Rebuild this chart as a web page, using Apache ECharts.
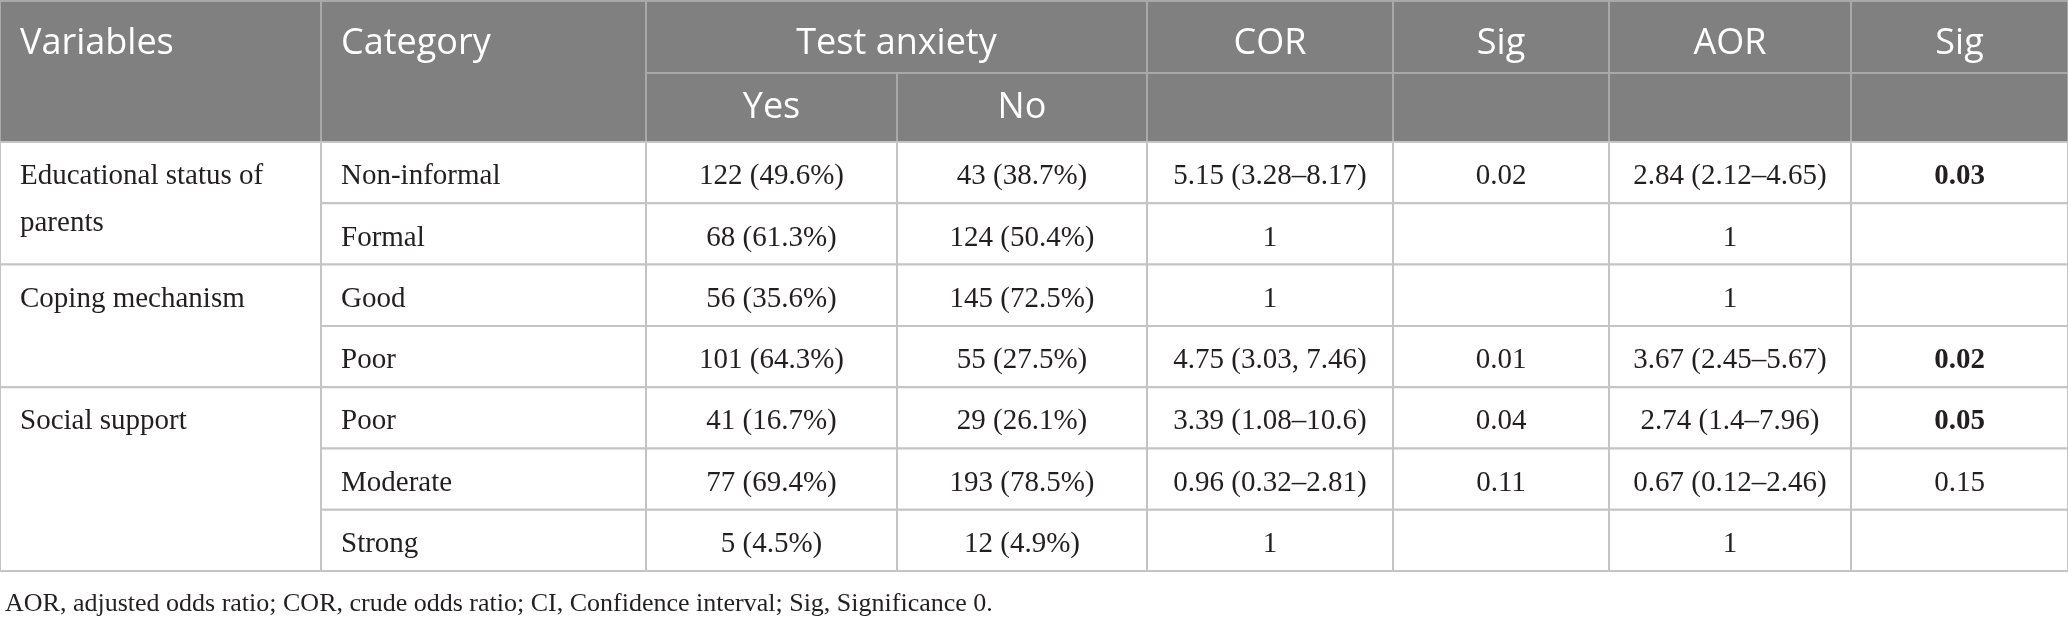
<!DOCTYPE html>
<html>
<head>
<meta charset="utf-8">
<script src="https://cdn.jsdelivr.net/npm/echarts@6/dist/echarts.min.js"></script>
<style>
  html, body { margin: 0; padding: 0; background: #fff; }
  #main { width: 2068px; height: 623px; }
</style>
</head>
<body>
<div id="main"></div>
<script>
// 表头
const headerTop = ['Variables', 'Category', 'Test anxiety', 'COR', 'Sig', 'AOR', 'Sig'];
const subHeader = ['Yes', 'No'];
// 变量（合并行）
const variables = ['Educational status of\nparents', 'Coping mechanism', 'Social support'];
const variableSpans = [2, 2, 3];
// 每行数据
const categories = ['Non-informal', 'Formal', 'Good', 'Poor', 'Poor', 'Moderate', 'Strong'];
const yesCounts = ['122 (49.6%)', '68 (61.3%)', '56 (35.6%)', '101 (64.3%)', '41 (16.7%)', '77 (69.4%)', '5 (4.5%)'];
const noCounts = ['43 (38.7%)', '124 (50.4%)', '145 (72.5%)', '55 (27.5%)', '29 (26.1%)', '193 (78.5%)', '12 (4.9%)'];
const corValues = ['5.15 (3.28\u20138.17)', '1', '1', '4.75 (3.03, 7.46)', '3.39 (1.08\u201310.6)', '0.96 (0.32\u20132.81)', '1'];
const corSig = ['0.02', '', '', '0.01', '0.04', '0.11', ''];
const aorValues = ['2.84 (2.12\u20134.65)', '1', '1', '3.67 (2.45\u20135.67)', '2.74 (1.4\u20137.96)', '0.67 (0.12\u20132.46)', '1'];
const aorSig = ['0.03', '', '', '0.02', '0.05', '0.15', ''];
const aorSigBold = [true, false, false, true, true, false, false];
const footnote = 'AOR, adjusted odds ratio; COR, crude odds ratio; CI, Confidence interval; Sig, Significance 0.';

// 版式（列宽、行高）
var colWidths = [321, 325, 251, 250, 246, 216, 242, 217];
var headRowHeights = [72, 69];
var bodyRowHeight = 61.3;
var tableTop = 1;

var colEdges = [0];
colWidths.forEach(function (w) { colEdges.push(colEdges[colEdges.length - 1] + w); });
var rowEdges = [tableTop, tableTop + headRowHeights[0], tableTop + headRowHeights[0] + headRowHeights[1]];
for (var r = 0; r < categories.length; r++) {
	rowEdges.push(rowEdges[rowEdges.length - 1] + bodyRowHeight);
}

var serif = '"Liberation Serif", "Times New Roman", serif';
var sans = '"Open Sans", "Noto Sans", sans-serif';

// 单元格：[x0, x1, y0, y1]
var cells = [];
function addCell(c0, c1, r0, r1, text, opt) {
	opt = opt || {};
	cells.push({
		value: [colEdges[c0], colEdges[c1], rowEdges[r0], rowEdges[r1]],
		text: text,
		align: opt.align || 'center',
		header: !!opt.header,
		bold: !!opt.bold,
		top: !!opt.top,
		dy: opt.dy == null ? 4 : opt.dy
	});
}

// 表头
addCell(0, 1, 0, 2, headerTop[0], { header: true, align: 'left', top: true, dy: 7 });
addCell(1, 2, 0, 2, headerTop[1], { header: true, align: 'left', top: true, dy: 7 });
addCell(2, 4, 0, 1, headerTop[2], { header: true, dy: 7 });
addCell(2, 3, 1, 2, subHeader[0], { header: true, dy: 0 });
addCell(3, 4, 1, 2, subHeader[1], { header: true, dy: 0 });
for (var h = 3; h < headerTop.length; h++) {
	addCell(h + 1, h + 2, 0, 1, headerTop[h], { header: true, dy: 7 });
	addCell(h + 1, h + 2, 1, 2, '', { header: true });
}

// 变量列
var start = 2;
variables.forEach(function (v, i) {
	addCell(0, 1, start, start + variableSpans[i], v, { align: 'left', top: true });
	start += variableSpans[i];
});

// 数据行
categories.forEach(function (cat, i) {
	var row = i + 2;
	addCell(1, 2, row, row + 1, cat, { align: 'left' });
	addCell(2, 3, row, row + 1, yesCounts[i]);
	addCell(3, 4, row, row + 1, noCounts[i]);
	addCell(4, 5, row, row + 1, corValues[i]);
	addCell(5, 6, row, row + 1, corSig[i]);
	addCell(6, 7, row, row + 1, aorValues[i]);
	addCell(7, 8, row, row + 1, aorSig[i], { bold: aorSigBold[i] });
});

var myChart = echarts.init(document.getElementById('main'));

var option = {
	animation: false,
	title: {
		text: footnote,
		left: 0,
		top: 586,
		textStyle: {
			fontFamily: serif,
			fontSize: 26,
			fontWeight: 'normal',
			color: '#231f20'
		}
	},
	grid: { left: 0, right: 0, top: 0, bottom: 0 },
	xAxis: { type: 'value', min: 0, max: 2068, show: false },
	yAxis: { type: 'value', min: 0, max: 623, inverse: true, show: false },
	series: [{
		type: 'custom',
		coordinateSystem: 'cartesian2d',
		data: cells,
		renderItem: function (params, api) {
			var cell = cells[params.dataIndex];
			var p0 = api.coord([api.value(0), api.value(2)]);
			var p1 = api.coord([api.value(1), api.value(3)]);
			var w = p1[0] - p0[0];
			var hgt = p1[1] - p0[1];
			var children = [{
				type: 'rect',
				shape: { x: p0[0], y: p0[1], width: w, height: hgt },
				style: {
					fill: cell.header ? '#808080' : '#ffffff',
					stroke: cell.header ? '#a9a9a9' : '#c4c4c4',
					lineWidth: 2
				}
			}];
			if (cell.text) {
				var lineH = cell.header ? headRowHeights[0] : 47;
				var firstH = cell.header ? headRowHeights[0] : bodyRowHeight;
				var tx = cell.align === 'left' ? p0[0] + 20 : p0[0] + w / 2;
				var ty = cell.top ? p0[1] + firstH / 2 - lineH / 2 : p0[1] + hgt / 2 - lineH / 2;
				children.push({
					type: 'text',
					style: {
						text: cell.text,
						x: tx,
						y: ty + cell.dy,
						align: cell.align,
						verticalAlign: 'top',
						lineHeight: lineH,
						fill: cell.header ? '#ffffff' : '#231f20',
						font: (cell.bold ? 'bold ' : '') + (cell.header ? '36px ' + sans : '29px ' + serif)
					}
				});
			}
			return { type: 'group', children: children };
		}
	}]
};
myChart.setOption(option);
</script>
</body>
</html>
